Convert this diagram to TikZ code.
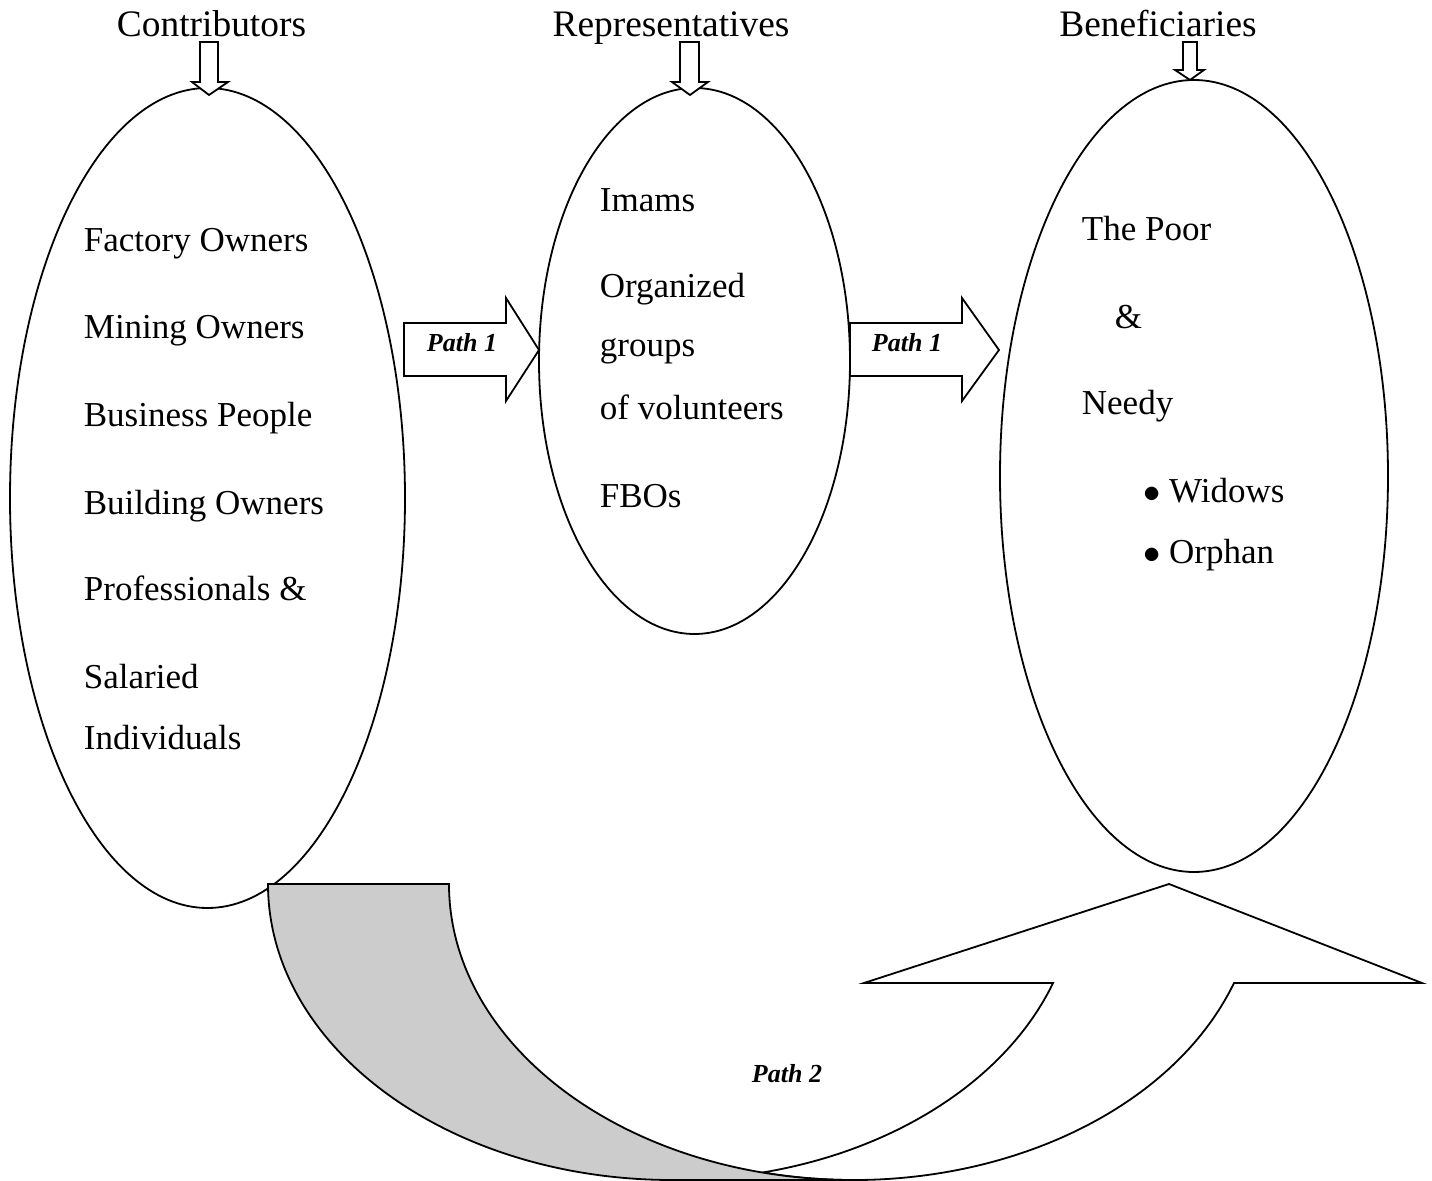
\documentclass[tikz,border=0pt]{standalone}
\usepackage{fontspec}
\setmainfont{Liberation Serif}
\usetikzlibrary{shapes.geometric}

\tikzset{
  bubble/.style={draw,ellipse,inner sep=0pt},
  heading/.style={anchor=base,inner sep=0pt,font=\fontsize{18.7}{22}\selectfont},
  member/.style={anchor=base west,inner sep=0pt,font=\fontsize{17.5}{20}\selectfont},
  pathname/.style={anchor=base,inner sep=0pt,font=\fontsize{13}{15}\selectfont\bfseries\itshape},
  blockarrow/.style={draw,fill=white},
}

\begin{document}
\begin{tikzpicture}[x=0.5pt,y=-0.5pt,line width=0.9pt]
\useasboundingbox (0,0) rectangle (1432,1181);
%%
\node (contributors) at (207.5,498) [bubble,minimum width=197.5pt,minimum height=410pt] {};
  \node (representatives) at (694.5,361) [bubble,minimum width=155.5pt,minimum height=273pt] {};
  \node (beneficiaries) at (1194,476) [bubble,minimum width=194pt,minimum height=396pt] {};
%%
  \node (contributors-title) at (211.5,37) [heading] {Contributors};
  \node (representatives-title) at (671,37) [heading] {Representatives};
  \node (beneficiaries-title) at (1158,37) [heading] {Beneficiaries};
  \draw [blockarrow] (200,42) -- (218,42) -- (218,82) -- (228,82) -- (209,95) -- (192,82) -- (200,82) -- cycle;
  \draw [blockarrow] (680,42) -- (699,42) -- (699,82) -- (708,82) -- (690,95) -- (672,82) -- (680,82) -- cycle;
  \draw [blockarrow] (1183,42) -- (1197,42) -- (1197,70) -- (1204,70) -- (1190,80) -- (1175,70) -- (1183,70) -- cycle;
%%
  \node (factory) at (83,252) [member] {Factory Owners};
  \node (mining) at (83,339) [member] {Mining Owners};
  \node (business) at (83,427) [member] {Business People};
  \node (building) at (83,515) [member] {Building Owners};
  \node (professionals) at (83,601) [member] {Professionals \&};
  \node (salaried) at (83,689) [member] {Salaried};
  \node (individuals) at (83,750) [member] {Individuals};
%%
  \node (imams) at (599,212) [member] {Imams};
  \node (organized) at (599,298) [member] {Organized};
  \node (groups) at (599,357) [member] {groups};
  \node (volunteers) at (599,420) [member] {of volunteers};
  \node (fbos) at (599,508) [member] {FBOs};
%%
  \node (poor) at (1081,241) [member] {The Poor};
  \node (and) at (1114,329) [member] {\&};
  \node (needy) at (1081,415) [member] {Needy};
  \node (widows) at (1143,503) [member] {$\bullet$\hspace{4pt}Widows};
  \node (orphan) at (1143,564) [member] {$\bullet$\hspace{4pt}Orphan};
%%
  \draw [blockarrow] (404,323) -- (506,323) -- (506,298) -- (539,350) -- (506,401) -- (506,376) -- (404,376) -- cycle;
  \node (path1a) at (462,352) [pathname] {Path 1};
  \draw [blockarrow] (850,323) -- (962,323) -- (962,298) -- (999,350) -- (962,401) -- (962,376) -- (850,376) -- cycle;
  \node (path1b) at (907,352) [pathname] {Path 1};
%%
  \draw [blockarrow] (1169,884) -- (1422,983) -- (1234,983)
    arc [start angle=19.54,end angle=102.94,x radius=404,y radius=296]
    arc [start angle=77.06,end angle=19.54,x radius=404,y radius=296]
    -- (864,983) -- cycle;
  \draw [fill=black!20] (672,1180) arc [start angle=90,end angle=180,x radius=404,y radius=296]
    -- (449,884) arc [start angle=180,end angle=90,x radius=404,y radius=296] -- cycle;
  \node (path2) at (787,1083) [pathname] {Path 2};
%
\end{tikzpicture}
\end{document}
